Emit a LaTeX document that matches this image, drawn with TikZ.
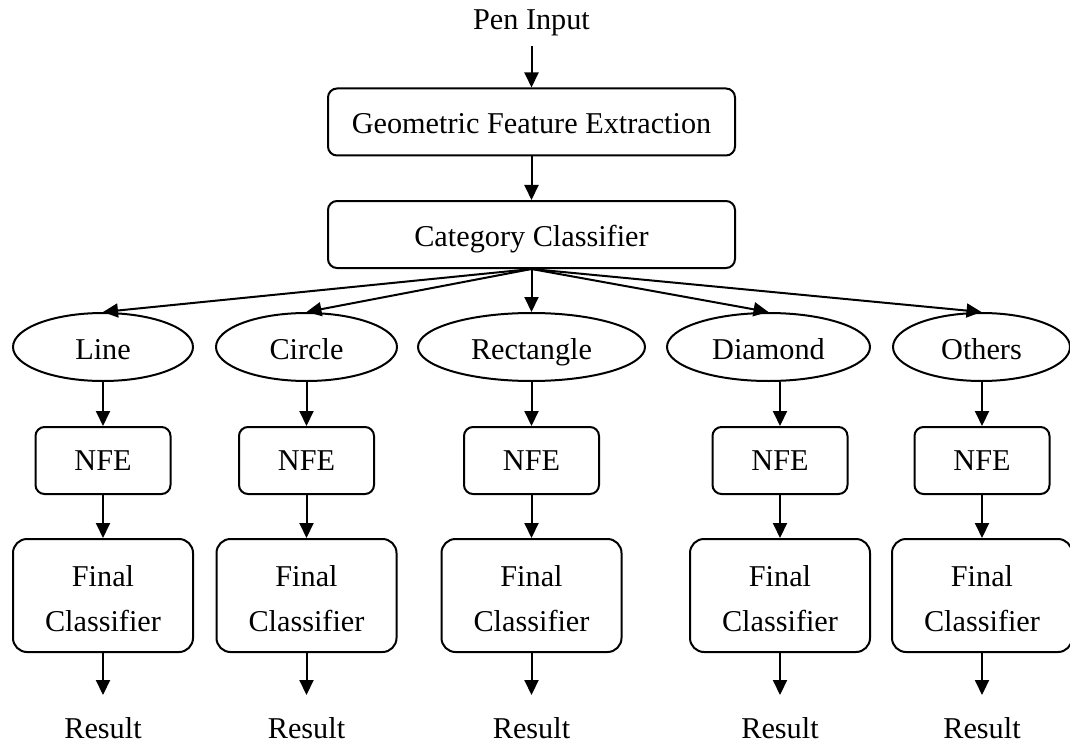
\documentclass[tikz,border=0pt]{standalone}
\usepackage{fontspec}
\setmainfont{Liberation Serif}
\usetikzlibrary{arrows.meta,positioning,shapes.geometric}

\begin{document}
\begin{tikzpicture}[x=1pt, y=-1pt,
		font=\fontsize{30.25}{45}\selectfont,
		line width=2pt,
		>={Triangle[length=15pt,width=14pt]},
		block/.style={draw, rounded corners=9pt, align=center, minimum height=67pt, text height=25pt, text depth=2pt},
		nfe/.style={block, minimum width=135pt, text height=22pt, text depth=2pt},
		final/.style={draw, rounded corners=14pt, align=center, minimum width=180pt, minimum height=113pt, text height=71.5pt, text depth=0pt},
		kind/.style={draw, ellipse, inner sep=0pt, minimum height=68pt, text height=26pt, text depth=2pt},
		txt/.style={anchor=base, inner ysep=21pt}
	]
		\useasboundingbox (0,0) rectangle (1070,746);

		\node[anchor=base, inner ysep=9pt] (pen) at (531.5,30) {Pen Input};
		\node[block, minimum width=407pt] (gfe) at (531.5,122) {Geometric Feature Extraction};
		\node[block, minimum width=407pt] (cat) at (531.5,234.5) {Category Classifier};

		\node[kind, minimum width=180pt] (line) at (103,347) {Line};
		\node[kind, minimum width=181pt] (circ) at (306.5,347) {Circle};
		\node[kind, minimum width=227pt] (rect) at (531.5,347) {Rectangle};
		\node[kind, minimum width=203pt] (diam) at (768.5,347) {Diamond};
		\node[kind, minimum width=177pt] (oth) at (981.5,347) {Others};

		\node[nfe] (nfe1) at (103,460.5) {NFE};
		\node[nfe] (nfe2) at (306.5,460.5) {NFE};
		\node[nfe] (nfe3) at (531.5,460.5) {NFE};
		\node[nfe] (nfe4) at (780,460.5) {NFE};
		\node[nfe] (nfe5) at (982,460.5) {NFE};

		\node[final] (fin1) at (103,595.5) {Final\\Classifier};
		\node[final] (fin2) at (306.5,595.5) {Final\\Classifier};
		\node[final] (fin3) at (531.5,595.5) {Final\\Classifier};
		\node[final] (fin4) at (780,595.5) {Final\\Classifier};
		\node[final] (fin5) at (982,595.5) {Final\\Classifier};

		\node[txt] (res1) at (103,738) {Result};
		\node[txt] (res2) at (306.5,738) {Result};
		\node[txt] (res3) at (531.5,738) {Result};
		\node[txt] (res4) at (780,738) {Result};
		\node[txt] (res5) at (982,738) {Result};

		\draw[->] (pen) -- (gfe);
		\draw[->] (gfe) -- (cat);

		\draw[->] (cat.south) -- (line.north);
		\draw[->] (cat.south) -- (circ.north);
		\draw[->] (cat.south) -- (rect.north);
		\draw[->] (cat.south) -- (diam.north);
		\draw[->] (cat.south) -- (oth.north);

		\draw[->] (line.south) -- (nfe1.north);
		\draw[->] (circ.south) -- (nfe2.north);
		\draw[->] (rect.south) -- (nfe3.north);
		\draw[->] (diam.south -| nfe4.north) -- (nfe4.north);
		\draw[->] (oth.south -| nfe5.north) -- (nfe5.north);

		\draw[->] (nfe1) -- (fin1);
		\draw[->] (nfe2) -- (fin2);
		\draw[->] (nfe3) -- (fin3);
		\draw[->] (nfe4) -- (fin4);
		\draw[->] (nfe5) -- (fin5);

		\draw[->] (fin1) -- (res1);
		\draw[->] (fin2) -- (res2);
		\draw[->] (fin3) -- (res3);
		\draw[->] (fin4) -- (res4);
		\draw[->] (fin5) -- (res5);
	\end{tikzpicture}
\end{document}
